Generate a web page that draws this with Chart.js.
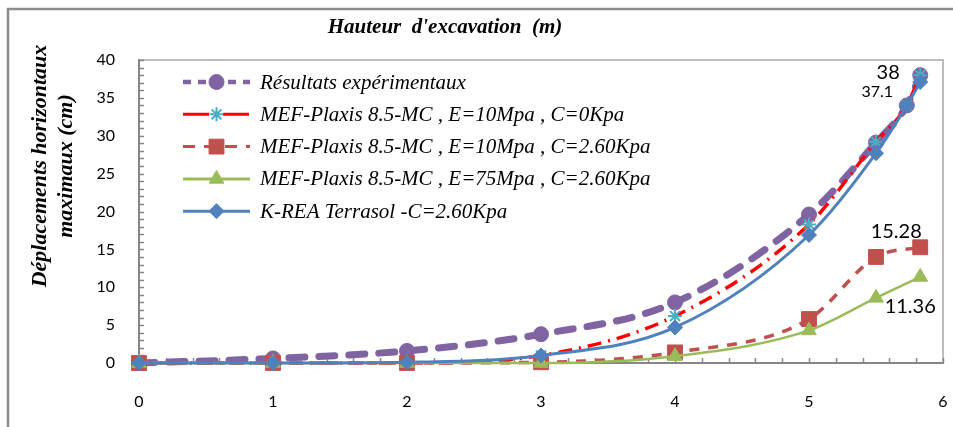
<!DOCTYPE html>
<html><head><meta charset="utf-8">
<script src="https://cdn.jsdelivr.net/npm/chart.js@4.4.0/dist/chart.umd.min.js"></script>
<style>html,body{margin:0;padding:0;background:#fff;overflow:hidden}#wrap{width:953px;height:427px;position:relative}</style>
</head><body><div id="wrap"><canvas id="c" width="953" height="427"></canvas></div>
<script>
// ---- data ----
const heights      = [0, 1, 2, 3, 4, 5, 5.5, 5.73, 5.83];
const heightsShort = [0, 1, 2, 3, 4, 5, 5.5, 5.83];
const experimental = [0, 0.6, 1.6, 3.8, 8.0, 19.6, 29.1, 34.0, 38];
const plaxisE10C0  = [0, 0, 0, 1.0, 6.2, 18.3, 29.2, 34.0, 38];
const plaxisE10C26 = [0, 0, 0, 0.1, 1.4, 5.8, 14.0, 15.28];
const plaxisE75C26 = [0, 0, 0, 0, 0.9, 4.3, 8.6, 11.36];
const kreaC26      = [0, 0, 0.1, 1.0, 4.7, 16.9, 27.7, 34.0, 37.1];
const seriesNames = [
  'Résultats expérimentaux',
  'MEF-Plaxis 8.5-MC , E=10Mpa , C=0Kpa',
  'MEF-Plaxis 8.5-MC , E=10Mpa , C=2.60Kpa',
  'MEF-Plaxis 8.5-MC , E=75Mpa , C=2.60Kpa',
  'K-REA Terrasol -C=2.60Kpa'
];
const xTitle = "Hauteur  d'excavation  (m)";
const yTitle = ['Déplacements horizontaux', 'maximaux (cm)'];
const xMin = 0, xMax = 6, xStep = 1, xMinor = 0.2;
const yMin = 0, yMax = 40, yStep = 5, yMinor = 1;
// labelled end values: [dataset index, point index]
const valueLabels = [[0, 8], [4, 8], [2, 7], [3, 7]];

const pts = (xs, ys) => xs.map((x, i) => ({x: x, y: ys[i]}));

// ---- styles ----
const styles = [
  {color:'#8064a2', width:7, dash:[16,14], cap:'round', pStyle:'circle', pr:7.5, pFill:'#8064a2', pBorder:'#8064a2', lDash:[8,7], lWidth:4.5},
  {color:'#ff0000', width:3.5, dash:[14,7,2,7], cap:'butt', pStyle:'star', pr:7, pFill:'#4bacc6', pBorder:'#4bacc6', lDash:[26,14], lWidth:3},
  {color:'#c0504d', width:3.5, dash:[10,9], cap:'butt', pStyle:'rect', pr:10.5, pFill:'#c0504d', pBorder:'#c0504d', lDash:[12,9], lWidth:3},
  {color:'#9bbb59', width:2.5, dash:[], cap:'butt', pStyle:'triangle', pr:8.5, pFill:'#9bbb59', pBorder:'#9bbb59', lDash:[], lWidth:3},
  {color:'#4f81bd', width:3, dash:[], cap:'butt', pStyle:'rectRot', pr:7.5, pFill:'#4f81bd', pBorder:'#4f81bd', lDash:[], lWidth:3}
];
const labelStyles = [
  {dx:-32, dy:-3, size:20},
  {dx:-43, dy:10, size:16},
  {dx:-24, dy:-16, size:20},
  {dx:-10, dy:30, size:20}
];
const legendPos = {x1:183, x2:250, tx:260, y0:82, dy:32.3};

const seriesData = [
  pts(heights, experimental),
  pts(heights, plaxisE10C0),
  pts(heightsShort, plaxisE10C26),
  pts(heightsShort, plaxisE75C26),
  pts(heights, kreaC26)
];
const orders = [5, 4, 3, 2, 1];

const datasets = seriesData.map((d, i) => {
  const s = styles[i];
  return {
    label: seriesNames[i], data: d, order: orders[i],
    borderColor: s.color, borderWidth: s.width, borderDash: s.dash, borderCapStyle: s.cap,
    pointStyle: s.pStyle, pointRadius: s.pr, pointBackgroundColor: s.pFill, pointBorderColor: s.pBorder,
    pointBorderWidth: s.pStyle === 'star' ? 2 : 1, pointHoverRadius: s.pr,
    cubicInterpolationMode: 'monotone', tension: 0.4, fill: false, clip: false
  };
});

function drawMarker(ctx, s, x, y) {
  ctx.save();
  ctx.setLineDash([]);
  ctx.fillStyle = s.pFill; ctx.strokeStyle = s.pBorder;
  ctx.lineWidth = s.pStyle === 'star' ? 2 : 1;
  Chart.helpers.drawPoint(ctx, {pointStyle: s.pStyle, radius: s.pr, rotation: 0, borderWidth: ctx.lineWidth}, x, y);
  ctx.restore();
}

const deco = {
  id: 'deco',
  beforeDraw(chart) {
    const ctx = chart.ctx;
    ctx.save();
    ctx.fillStyle = '#fff'; ctx.fillRect(0, 0, chart.width, chart.height);
    ctx.strokeStyle = '#8c8c8c'; ctx.lineWidth = 2.5;
    ctx.strokeRect(8, 9, chart.width + 40, chart.height + 40);
    const a = chart.chartArea;
    ctx.strokeStyle = '#a6a6a6'; ctx.lineWidth = 1.5;
    ctx.beginPath(); ctx.moveTo(a.left, a.top); ctx.lineTo(a.right, a.top); ctx.lineTo(a.right, a.bottom); ctx.stroke();
    // inside minor/major ticks
    const xs = chart.scales.x, ys = chart.scales.y;
    ctx.strokeStyle = '#868686'; ctx.lineWidth = 1.5;
    ctx.beginPath();
    for (let k = 1; k * xMinor <= xMax + 1e-9; k++) {
      const px = Math.round(xs.getPixelForValue(k * xMinor)) + 0.5;
      ctx.moveTo(px, a.bottom); ctx.lineTo(px, a.bottom - 5);
    }
    for (let k = 1; k * yMinor <= yMax + 1e-9; k++) {
      const py = Math.round(ys.getPixelForValue(k * yMinor)) + 0.5;
      ctx.moveTo(a.left, py); ctx.lineTo(a.left + 5, py);
    }
    ctx.stroke();
    ctx.restore();
  },
  afterDraw(chart) {
    const ctx = chart.ctx;
    ctx.save();
    // title
    ctx.fillStyle = '#000';
    ctx.font = 'bold italic 21px "Liberation Serif", "DejaVu Serif", serif';
    ctx.textAlign = 'center'; ctx.textBaseline = 'middle';
    ctx.fillText(xTitle, 445, 28);
    // y title
    ctx.save();
    ctx.translate(40, 166); ctx.rotate(-Math.PI / 2);
    ctx.font = 'bold italic 22px "Liberation Serif", "DejaVu Serif", serif';
    ctx.fillText(yTitle[0], 0, 0);
    ctx.fillText(yTitle[1], 0, 26);
    ctx.restore();
    // legend
    ctx.font = 'italic 21px "Liberation Serif", "DejaVu Serif", serif';
    ctx.textAlign = 'left';
    styles.forEach((s, i) => {
      const y = legendPos.y0 + i * legendPos.dy;
      ctx.save();
      ctx.strokeStyle = s.color; ctx.lineWidth = s.lWidth; ctx.setLineDash(s.lDash);
      ctx.lineCap = 'butt';
      ctx.beginPath(); ctx.moveTo(legendPos.x1, y); ctx.lineTo(legendPos.x2, y); ctx.stroke();
      ctx.restore();
      drawMarker(ctx, s, (legendPos.x1 + legendPos.x2) / 2, y);
      ctx.fillStyle = '#000';
      ctx.fillText(seriesNames[i], legendPos.tx, y + 1);
    });
    // value labels
    ctx.textAlign = 'center';
    valueLabels.forEach((vl, j) => {
      const meta = chart.getDatasetMeta(vl[0]);
      const el = meta.data[vl[1]];
      const v = seriesData[vl[0]][vl[1]].y;
      const ls = labelStyles[j];
      ctx.font = ls.size + 'px Lato, "Open Sans", sans-serif';
      ctx.fillStyle = '#000';
      ctx.fillText(String(v), el.x + ls.dx, el.y + ls.dy);
    });
    ctx.restore();
  }
};

new Chart(document.getElementById('c'), {
  type: 'line',
  data: { datasets: datasets },
  plugins: [deco],
  options: {
    responsive: false, animation: false, events: [],
    layout: { autoPadding: false, padding: { top: 60, right: 10, left: 0, bottom: 0 } },
    plugins: { legend: { display: false }, title: { display: false }, tooltip: { enabled: false } },
    scales: {
      x: {
        type: 'linear', min: xMin, max: xMax,
        ticks: { stepSize: xStep, padding: 21, color: '#000', font: { family: 'Lato, "Open Sans", sans-serif', size: 16 } },
        grid: { display: false },
        border: { display: true, color: '#868686', width: 2 },
        afterFit(s) { s.height = 64; s.paddingLeft = 0; s.paddingRight = 0; }
      },
      y: {
        min: yMin, max: yMax,
        ticks: { stepSize: yStep, padding: 16, color: '#000', font: { family: 'Lato, "Open Sans", sans-serif', size: 16 } },
        grid: { display: false },
        border: { display: true, color: '#868686', width: 2 },
        afterFit(s) { s.width = 139; s.paddingTop = 0; s.paddingBottom = 0; }
      }
    }
  }
});
</script></body></html>
